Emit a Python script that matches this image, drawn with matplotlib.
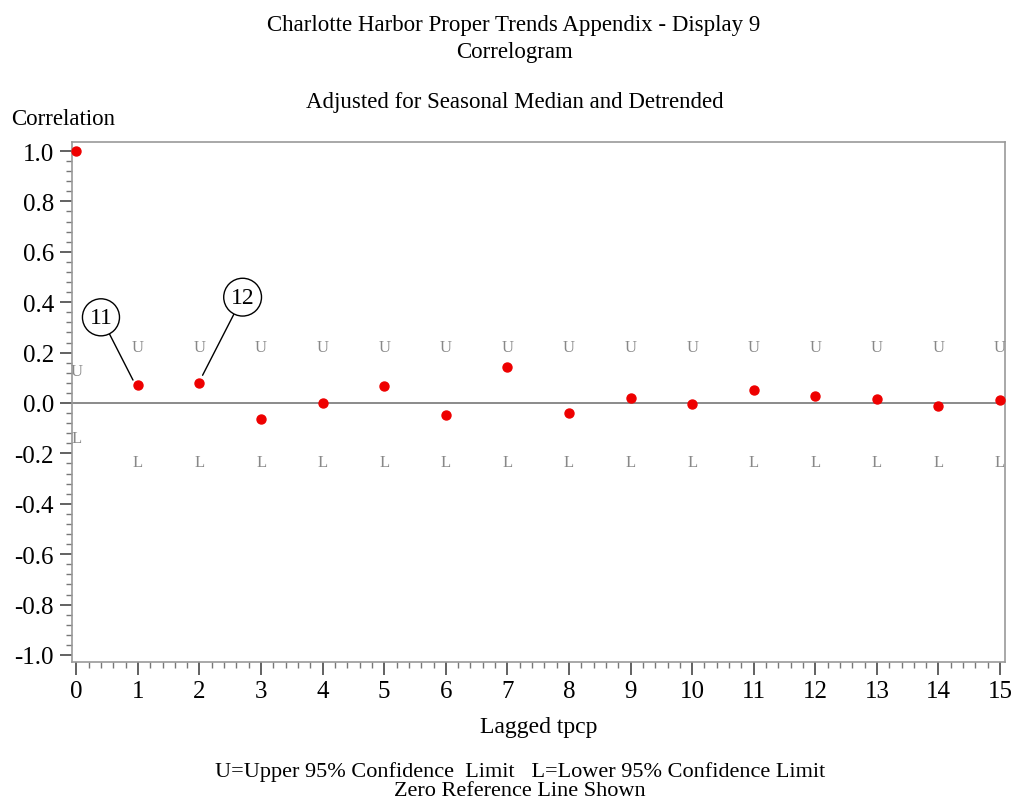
import matplotlib.pyplot as plt
import numpy as np
from matplotlib.ticker import MultipleLocator

plt.rcParams['font.family'] = ['Liberation Serif', 'DejaVu Serif']

# correlogram values
lags = list(range(16))
corr = [1.0, 0.071, 0.080, -0.063, 0.0, 0.067, -0.048, 0.143, -0.040,
        0.020, -0.005, 0.052, 0.028, 0.016, -0.012, 0.012]
upper = [0.125] + [0.222] * 15
lower = [-0.14] + [-0.234] * 15
ytick_vals = [-1.0, -0.8, -0.6, -0.4, -0.2, 0.0, 0.2, 0.4, 0.6, 0.8, 1.0]
ytick_labels = ['-1.0', '-0.8', '-0.6', '-0.4', '-0.2', '0.0', '0.2', '0.4', '0.6', '0.8', '1.0']

fig = plt.figure(figsize=(10.13, 8.03), dpi=100)
ax = fig.add_axes([0.0711, 0.1743, 0.921, 0.6477])

gray = '#777777'
ax.axhline(0, color=gray, lw=1.2, zorder=1)

for x, u, l in zip(lags, upper, lower):
    ax.text(x, u, 'U', ha='center', va='center', fontsize=12, color='#888888')
    ax.text(x, l, 'L', ha='center', va='center', fontsize=12, color='#888888')

ax.scatter(lags, corr, s=42, color='#ee0000', zorder=3, clip_on=False)

# circled labels
circ = dict(boxstyle='circle,pad=0.3', fc='white', ec='black', lw=1)
ax.annotate('11', xy=(lags[1] - 0.08, corr[1] + 0.02), xytext=(0.4, 0.34),
            fontsize=17, ha='center', va='center', bbox=circ,
            arrowprops=dict(arrowstyle='-', color='black', lw=1, shrinkA=0, shrinkB=0))
ax.annotate('12', xy=(lags[2] + 0.05, corr[2] + 0.03), xytext=(2.7, 0.42),
            fontsize=17, ha='center', va='center', bbox=circ,
            arrowprops=dict(arrowstyle='-', color='black', lw=1, shrinkA=0, shrinkB=0))

ax.set_xlim(-0.07, 15.08)
ax.set_ylim(-1.028, 1.036)
ax.set_xticks(lags)
ax.set_yticks(ytick_vals)
ax.set_yticklabels(ytick_labels)
ax.xaxis.set_minor_locator(MultipleLocator(0.2))
ax.yaxis.set_minor_locator(MultipleLocator(0.04))
ax.tick_params(which='major', direction='out', length=9, width=1.3, color='#555555',
               labelsize=18, pad=4)
ax.tick_params(which='minor', direction='out', length=4, width=1, color=gray)
for s in ax.spines.values():
    s.set_color('#999999')
    s.set_linewidth(1.2)

ax.set_xlabel('Lagged tpcp', fontsize=17, labelpad=10)

fig.text(0.507, 0.968, 'Charlotte Harbor Proper Trends Appendix - Display 9',
         ha='center', va='center', fontsize=16.5)
fig.text(0.508, 0.935, 'Correlogram', ha='center', va='center', fontsize=16.5)
fig.text(0.508, 0.872, 'Adjusted for Seasonal Median and Detrended',
         ha='center', va='center', fontsize=16.5)
fig.text(0.011, 0.851, 'Correlation', ha='left', va='center', fontsize=16.5)
fig.text(0.513, 0.039, 'U=Upper 95% Confidence  Limit   L=Lower 95% Confidence Limit',
         ha='center', va='center', fontsize=16)
fig.text(0.513, 0.014, 'Zero Reference Line Shown', ha='center', va='center', fontsize=16)

fig.savefig('out.png', dpi=100)
